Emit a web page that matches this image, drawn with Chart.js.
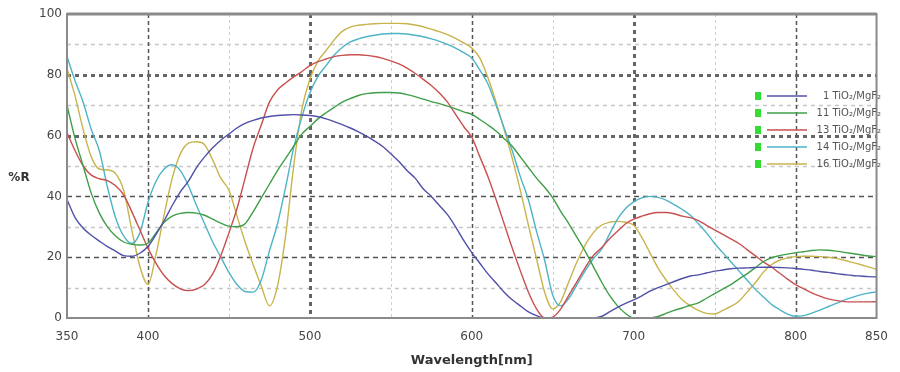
<!DOCTYPE html>
<html>
<head>
<meta charset="utf-8">
<script src="https://cdn.jsdelivr.net/npm/chart.js@4.4.0/dist/chart.umd.min.js"></script>
<style>
html,body{margin:0;padding:0;background:#fff}
</style>
</head>
<body>
<canvas id="chart" width="900" height="372"></canvas>
<script>
// ── Data (%R every 5 nm) ────────────────────────────────────────
const wavelength = [
  350,355,360,365,370,375,380,385,390,395,
  400,405,410,415,420,425,430,435,440,445,
  450,455,460,465,470,475,480,485,490,495,
  500,505,510,515,520,525,530,535,540,545,
  550,555,560,565,570,575,580,585,590,595,
  600,605,610,615,620,625,630,635,640,645,
  650,655,660,665,670,675,680,685,690,695,
  700,705,710,715,720,725,730,735,740,745,
  750,755,760,765,770,775,780,785,790,795,
  800,805,810,815,820,825,830,835,840,845,
  850
];

const seriesNames = ['1 TiO\u2082/MgF\u2082', '11 TiO\u2082/MgF\u2082', '13 TiO\u2082/MgF\u2082', '14 TiO\u2082/MgF\u2082', '16 TiO\u2082/MgF\u2082'];
const seriesColors = ['#5050a8', '#3f9f48', '#c85050', '#4fb3c6', '#c8b44c'];

const layers1 = [
  39, 33, 29.5, 27.2, 25.3, 23.5, 22, 20.5, 20.3, 21.3,
  23.5, 27.5, 32, 37, 41.5, 45, 49.5, 53, 56, 58.5,
  60.5, 62.5, 64, 65, 65.8, 66.3, 66.6, 66.8, 66.9, 66.8,
  66.6, 66.2, 65.5, 64.6, 63.6, 62.5, 61.2, 59.8, 58.2, 56.4,
  54, 51.5, 48.5, 46, 42.5, 40, 37, 34, 30, 25.5,
  21.5, 18, 14.5, 11.5, 8.5, 6, 4, 2, 0.8, 0,
  0, 0, 0, 0, 0, 0, 0.5, 2, 3.5, 4.8,
  6, 7.3, 8.8, 10, 11, 12, 13, 13.8, 14.2, 14.8,
  15.4, 15.8, 16.2, 16.4, 16.5, 16.6, 16.7, 16.7, 16.6, 16.5,
  16.3, 16, 15.7, 15.3, 15, 14.6, 14.3, 14, 13.8, 13.6,
  13.5
];

const layers11 = [
  70, 59, 50, 41, 34.5, 30, 27, 25, 24.2, 24,
  24.6, 28, 31.5, 33.5, 34.4, 34.7, 34.5, 33.8, 32.5, 31.2,
  30.2, 30, 31, 35, 39.5, 44, 48.5, 52.5, 56.5, 60.5,
  63, 65.5, 67.5, 69.3, 71, 72.2, 73.2, 73.8, 74.1, 74.2,
  74.2, 74, 73.5, 72.8, 72, 71.2, 70.5, 69.7, 68.8, 67.8,
  67, 65.3, 63.5, 61.5, 59, 56.5, 53, 49.5, 46, 43,
  39.5, 35, 31, 26.5, 22, 17, 12, 7.5, 4, 1.5,
  0, 0, 0, 0.5, 1.5, 2.5, 3.3, 4.2, 5, 6.5,
  8, 9.5, 11, 12.8, 14.5, 16.5, 18.5, 19.8, 20.5, 21,
  21.5, 21.8, 22.2, 22.4, 22.3, 22, 21.6, 21.2, 20.8, 20.4,
  20.2
];

const layers13 = [
  61, 55, 50, 47, 45.8, 45.2, 43.5, 40.5, 35, 29,
  23, 18, 14, 11.3, 9.6, 9, 9.5, 11, 14.5, 20.5,
  28, 36, 46, 56, 63.5, 71, 75, 77.3, 79.3, 81,
  83, 84.3, 85.2, 86, 86.4, 86.6, 86.6, 86.4, 86, 85.4,
  84.6, 83.6, 82.2, 80.5, 78.5, 76.5, 74, 71, 67, 63,
  59.5, 53, 46.5, 39, 31, 23, 15.5, 8.5, 3, 0,
  0.3, 3, 7.5, 12, 16.5, 20.5, 23, 26, 28.5, 31,
  32.5, 33.5, 34.3, 34.7, 34.7, 34.3, 33.5, 33, 32, 30.5,
  29, 27.5, 26, 24.5, 22.5, 20.5, 18.5, 16.8, 14.8, 12.8,
  11, 9.6, 8.3, 7.2, 6.3, 5.8, 5.4, 5.3, 5.3, 5.3,
  5.4
];

const layers14 = [
  86, 78, 71, 62, 55, 43, 33, 27, 24.5, 28,
  38, 45, 49, 50.4, 48.5, 43.5, 37, 31, 25, 20,
  15, 11, 8.7, 8.5, 12.5, 22, 31, 43, 56, 66,
  74, 79.5, 83, 86.5, 89, 90.8, 91.8, 92.5, 93, 93.4,
  93.6, 93.6, 93.4, 93, 92.5, 91.8, 91, 90, 88.8, 87.3,
  85.5, 81.5, 77, 70, 62.5, 55, 46.5, 38.8, 28.5, 19,
  7.5, 4, 6.5, 11, 15.5, 19.5, 22.5, 27.5, 32.5, 36,
  38.2, 39.5, 40, 39.7, 38.8, 37.3, 35.7, 33.8, 31, 28,
  24.5, 21.5, 18.5, 15.5, 12.5, 9.5, 7, 4.5, 2.8, 1.3,
  0.6, 0.8, 1.6, 2.6, 3.7, 4.8, 5.9, 6.8, 7.6, 8.2,
  8.6
];

const layers16 = [
  82, 73, 62, 53, 49, 48.7, 47.5, 42, 29, 17,
  11, 21, 34, 46, 54, 57.5, 58, 57, 52, 46,
  42, 33.5, 25, 17.5, 10.5, 4, 10.5, 27, 50, 68.5,
  78.5, 84.5, 88, 91.5, 94.3, 95.7, 96.3, 96.6, 96.8, 96.9,
  96.9, 96.9, 96.8, 96.4, 95.8, 95, 94.2, 93.2, 92, 90.5,
  88.8, 85.5, 79, 71, 62, 52.5, 42, 30.5, 19.5, 8.5,
  3, 5.5, 12, 18.5, 24, 28, 30.5, 31.5, 31.8, 31.5,
  30.5, 26.5, 21.5, 16.5, 12.5, 9, 6, 4, 2.5, 1.5,
  1.3, 2.5, 3.8, 5.5, 8.5, 11.5, 15, 17.5, 19, 19.8,
  20.2, 20.3, 20.3, 20.2, 20, 19.6, 19, 18.3, 17.6, 16.8,
  16
];

const xTicks = [350, 400, 500, 600, 700, 800, 850];
const yTicks = [0, 20, 40, 60, 80, 100];

const allSeries = [layers1, layers11, layers13, layers14, layers16];

// ── Grid + frame, drawn through the chart's own scales ──────────
const gridPlugin = {
  id: 'dottedGrid',
  beforeDatasetsDraw(chart) {
    const { ctx, chartArea: a, scales: { x, y } } = chart;
    ctx.save();
    const hline = (v, w, dash, col) => {
      const py = Math.round(y.getPixelForValue(v)) + 0.5;
      ctx.beginPath(); ctx.lineWidth = w; ctx.setLineDash(dash); ctx.strokeStyle = col;
      ctx.moveTo(a.left, py); ctx.lineTo(a.right, py); ctx.stroke();
    };
    const vline = (v, w, dash, col) => {
      const px = Math.round(x.getPixelForValue(v)) + 0.5;
      ctx.beginPath(); ctx.lineWidth = w; ctx.setLineDash(dash); ctx.strokeStyle = col;
      ctx.moveTo(px, a.top); ctx.lineTo(px, a.bottom); ctx.stroke();
    };
    // minor (light)
    [10, 30, 50, 70, 90].forEach(v => hline(v, 1.5, [4, 4], '#c8c8c8'));
    [450, 550, 650, 750].forEach(v => vline(v, 1, [3, 3], '#cfcfcf'));
    // major
    hline(20, 1.5, [5, 4], '#555');
    hline(40, 1.5, [5, 4], '#555');
    hline(60, 3, [4, 4], '#666');
    hline(80, 3, [4, 4], '#666');
    vline(400, 1.5, [4, 3], '#555');
    vline(500, 3, [4, 4], '#666');
    vline(600, 1.5, [4, 3], '#555');
    vline(700, 3, [4, 4], '#666');
    vline(800, 1.5, [4, 3], '#555');
    ctx.restore();
  },
  afterDatasetsDraw(chart) {
    const { ctx, chartArea: a } = chart;
    ctx.save();
    ctx.setLineDash([]);
    ctx.strokeStyle = '#8a8a8a';
    ctx.lineWidth = 2;
    ctx.strokeRect(a.left, a.top, a.right - a.left, a.bottom - a.top);
    ctx.lineWidth = 3;
    ctx.beginPath(); ctx.moveTo(a.left, a.top); ctx.lineTo(a.right, a.top); ctx.stroke();

    // y title, horizontal
    ctx.fillStyle = '#333';
    ctx.font = 'bold 12px "DejaVu Sans"';
    ctx.textAlign = 'center';
    ctx.textBaseline = 'middle';
    ctx.fillText('%R', 19, 178);

    // legend box
    ctx.font = '10px "DejaVu Sans"';
    ctx.textAlign = 'right';
    seriesNames.forEach((name, i) => {
      const ly = 96 + i * 17;
      ctx.fillStyle = '#33dd33';
      ctx.fillRect(755, ly - 4, 6, 8);
      ctx.strokeStyle = seriesColors[i];
      ctx.lineWidth = 1.5;
      ctx.beginPath(); ctx.moveTo(767, ly); ctx.lineTo(807, ly); ctx.stroke();
      ctx.fillStyle = '#555';
      ctx.fillText(name, 881, ly);
    });
    ctx.restore();
  }
};

const datasets = allSeries.map((vals, i) => ({
  label: seriesNames[i],
  data: wavelength.map((w, j) => ({ x: w, y: vals[j] })),
  borderColor: seriesColors[i],
  borderWidth: 1.4,
  pointRadius: 0,
  fill: false,
  cubicInterpolationMode: 'monotone'
}));

new Chart(document.getElementById('chart'), {
  type: 'line',
  data: { datasets },
  plugins: [gridPlugin],
  options: {
    responsive: false,
    animation: false,
    devicePixelRatio: 1,
    layout: { padding: { left: 0, right: 10, top: 14, bottom: 0 } },
    plugins: { legend: { display: false }, tooltip: { enabled: false } },
    scales: {
      x: {
        type: 'linear',
        min: 350, max: 850,
        afterBuildTicks: s => { s.ticks = xTicks.map(v => ({ value: v })); },
        afterFit: s => { s.height = 54; },
        grid: { display: false, drawTicks: false },
        border: { display: false },
        ticks: { color: '#444', padding: 12, maxRotation: 0, autoSkip: false, font: { family: 'DejaVu Sans', size: 12 } },
        title: { display: true, text: 'Wavelength[nm]', color: '#333', padding: { top: 4 }, font: { family: 'DejaVu Sans', size: 13, weight: 'bold' } }
      },
      y: {
        min: 0, max: 100,
        afterBuildTicks: s => { s.ticks = yTicks.map(v => ({ value: v })); },
        afterFit: s => { s.width = 67; },
        grid: { display: false, drawTicks: false },
        border: { display: false },
        ticks: { color: '#444', padding: 5, font: { family: 'DejaVu Sans', size: 12 } }
      }
    }
  }
});
</script>
</body>
</html>
